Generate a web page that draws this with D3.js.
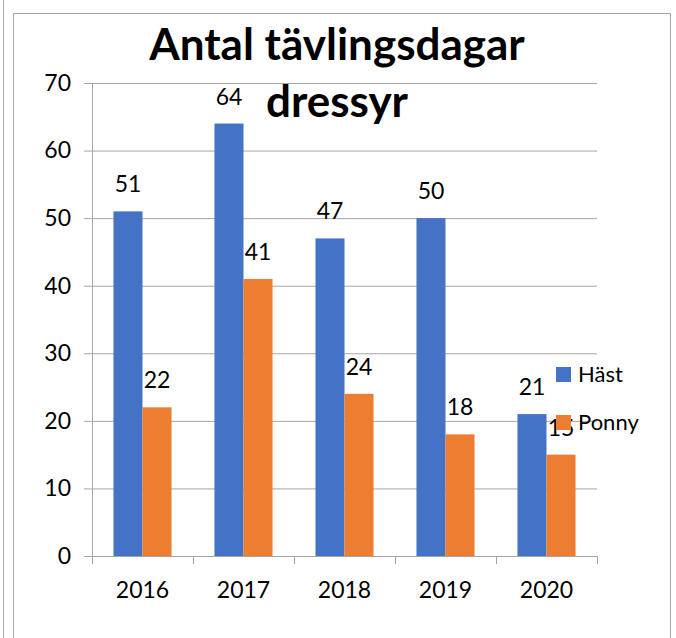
<!DOCTYPE html>
<html>
<head>
<meta charset="utf-8">
<script src="https://cdn.jsdelivr.net/npm/d3@7"></script>
<style>
  body { margin: 0; background: #fff; }
  svg { display: block; font-family: Lato, "Open Sans", sans-serif; }
</style>
</head>
<body>
<div id="chart"></div>
<script>
// data
const years = ["2016", "2017", "2018", "2019", "2020"];
const hast = [51, 64, 47, 50, 21];
const ponny = [22, 41, 24, 18, 15];
const seriesNames = ["Häst", "Ponny"];
const seriesColors = ["#4472C4", "#ED7D31"];
const yTicks = [0, 10, 20, 30, 40, 50, 60, 70];

const width = 676,
  height = 638;
const plot = { left: 92, right: 597, top: 83, bottom: 556 };

const svg = d3
  .select("#chart")
  .append("svg")
  .attr("width", width)
  .attr("height", height);

// frame lines
svg.append("line")
  .attr("x1", 3.5).attr("x2", 3.5).attr("y1", 0).attr("y2", height)
  .attr("stroke", "#a6a6a6");
svg.append("rect")
  .attr("x", 13.5).attr("y", 13.5)
  .attr("width", 657).attr("height", height)
  .attr("fill", "none")
  .attr("stroke", "#a6a6a6");

const x = d3.scaleBand().domain(years).range([plot.left, plot.right]).paddingInner(0).paddingOuter(0);
const xSub = d3.scaleBand().domain(seriesNames).range([0, x.bandwidth()]).paddingInner(0).paddingOuter(0.74);
const y = d3.scaleLinear().domain([0, 70]).range([plot.bottom, plot.top]);

// gridlines + y labels
const yAxis = d3.axisLeft(y).tickValues(yTicks).tickSize(8).tickPadding(13);
svg.append("g")
  .attr("transform", `translate(${plot.left},0)`)
  .call(yAxis)
  .call((g) => g.select(".domain").attr("stroke", "#a6a6a6").attr("d", `M0.5,${plot.top}V${plot.bottom}`))
  .call((g) => g.selectAll(".tick line").attr("stroke", "#a6a6a6"))
  .call((g) =>
    g.selectAll(".tick line")
      .clone()
      .attr("x1", 0)
      .attr("x2", plot.right - plot.left)
  )
  .call((g) => g.selectAll(".tick text").attr("font-size", 23).attr("fill", "#000").attr("font-family", "Lato, sans-serif"));

const rows = years.map((yr, i) => ({ year: yr, values: [hast[i], ponny[i]] }));

const groups = svg.append("g")
  .selectAll("g")
  .data(rows)
  .join("g")
  .attr("transform", (d) => `translate(${x(d.year)},0)`);

groups.selectAll("rect")
  .data((d) => d.values.map((v, j) => ({ name: seriesNames[j], v, j })))
  .join("rect")
  .attr("x", (d) => xSub(d.name))
  .attr("y", (d) => y(d.v))
  .attr("width", xSub.bandwidth())
  .attr("height", (d) => y(0) - y(d.v))
  .attr("fill", (d) => seriesColors[d.j]);

groups.selectAll("text")
  .data((d) => d.values.map((v, j) => ({ name: seriesNames[j], v, j })))
  .join("text")
  .attr("x", (d) => xSub(d.name) + xSub.bandwidth() / 2)
  .attr("y", (d) => y(d.v) - 19)
  .attr("text-anchor", "middle")
  .attr("font-size", 23)
  .text((d) => d.v);

// x axis
const xAxis = d3.axisBottom(x).tickSize(0).tickPadding(26);
const gx = svg.append("g")
  .attr("transform", `translate(0,${plot.bottom})`)
  .call(xAxis)
  .call((g) => g.select(".domain").attr("stroke", "#a6a6a6").attr("d", `M${plot.left - 8},0.5H${plot.right}`))
  .call((g) => g.selectAll(".tick text").attr("font-size", 23).attr("fill", "#000").attr("font-family", "Lato, sans-serif"));
// tick marks at band edges
gx.selectAll(".edge")
  .data(years.map((d) => x(d)).concat([plot.right]))
  .join("line")
  .attr("x1", (d) => d + 0.5).attr("x2", (d) => d + 0.5)
  .attr("y1", 0).attr("y2", 8)
  .attr("stroke", "#a6a6a6");

// title
svg.append("text")
  .attr("x", 337).attr("y", 60)
  .attr("text-anchor", "middle")
  .attr("font-size", 44).attr("font-weight", "bold")
  .text("Antal tävlingsdagar");
svg.append("text")
  .attr("x", 337).attr("y", 117)
  .attr("text-anchor", "middle")
  .attr("font-size", 44).attr("font-weight", "bold")
  .text("dressyr");

// legend
const legend = svg.append("g")
  .selectAll("g")
  .data(seriesNames)
  .join("g")
  .attr("transform", (d, i) => `translate(556,${367 + i * 48})`);
legend.append("rect")
  .attr("width", 15).attr("height", 15)
  .attr("fill", (d, i) => seriesColors[i]);
legend.append("text")
  .attr("x", 22).attr("y", 15)
  .attr("font-size", 22)
  .text((d) => d);
</script>
</body>
</html>
